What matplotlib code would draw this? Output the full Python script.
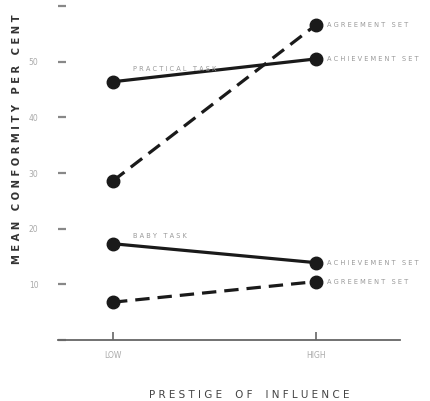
import matplotlib
matplotlib.use('Agg')
import matplotlib.pyplot as plt

# prestige levels
x_labels = ['LOW', 'HIGH']
x_pos = [1, 2]

# mean conformity (per cent)
practical_achievement = [46.4, 50.5]
practical_agreement = [28.6, 56.6]
baby_achievement = [17.3, 13.9]
baby_agreement = [6.8, 10.5]

y_ticks = [0, 10, 20, 30, 40, 50, 60]
y_ticklabels = ['', '10', '20', '30', '40', '50', '']

fig = plt.figure(figsize=(4.30, 4.01), dpi=100)
ax = fig.add_axes([0.135, 0.152, 0.795, 0.833])

line_kw = dict(color='#1a1a1a', lw=2.3, marker='o', markersize=9)
ax.plot(x_pos, practical_achievement, ls='-', **line_kw)
ax.plot(x_pos, practical_agreement, ls=(0, (4.5, 2.5)), **line_kw)
ax.plot(x_pos, baby_achievement, ls='-', **line_kw)
ax.plot(x_pos, baby_agreement, ls=(0, (4.5, 2.5)), **line_kw)

ax.set_xlim(0.729, 2.414)
ax.set_ylim(0, 60)

for s in ['top', 'right', 'left']:
    ax.spines[s].set_visible(False)
ax.spines['bottom'].set_color('#666666')
ax.spines['bottom'].set_linewidth(1.3)

ax.set_xticks(x_pos)
ax.set_xticklabels(x_labels)
ax.set_yticks(y_ticks)
ax.set_yticklabels(y_ticklabels)
ax.tick_params(axis='y', direction='in', length=6, width=1.6, color='#888888',
               labelsize=5.5, labelcolor='#aaaaaa', pad=14)
ax.tick_params(axis='x', direction='in', length=6, width=1.2, color='#666666',
               labelsize=5.5, labelcolor='#aaaaaa', pad=8)

lab_kw = dict(fontsize=4.8, color='#999999', va='center', ha='left')
dx = 0.055
ax.text(2 + dx, practical_agreement[1], 'A G R E E M E N T   S E T', **lab_kw)
ax.text(2 + dx, practical_achievement[1], 'A C H I E V E M E N T   S E T', **lab_kw)
ax.text(2 + dx, baby_achievement[1], 'A C H I E V E M E N T   S E T', **lab_kw)
ax.text(2 + dx, baby_agreement[1], 'A G R E E M E N T   S E T', **lab_kw)
ax.text(1.1, 48.6, 'P R A C T I C A L   T A S K', **lab_kw)
ax.text(1.1, 18.7, 'B A B Y   T A S K', **lab_kw)

ax.set_ylabel('M E A N   C O N F O R M I T Y   P E R   C E N T', fontsize=7.2,
              color='#333333', fontweight='bold')
ax.yaxis.set_label_coords(-0.105, 0.60)
ax.set_xlabel('P R E S T I G E    O F    I N F L U E N C E', fontsize=7.5,
              color='#444444')
ax.xaxis.set_label_coords(0.558, -0.15)

fig.savefig('out.png', dpi=100)
